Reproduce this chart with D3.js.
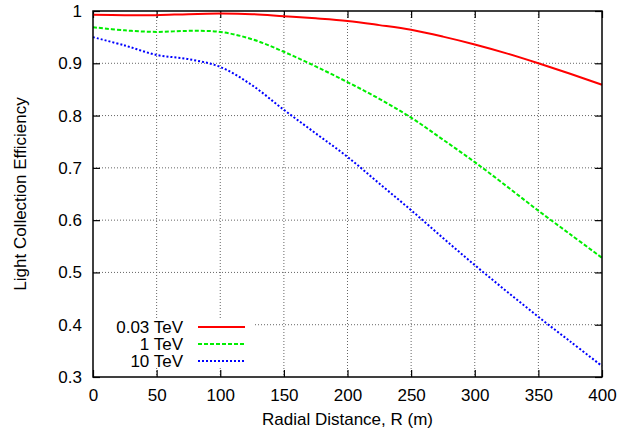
<!DOCTYPE html>
<html>
<head>
<meta charset="utf-8">
<script src="https://cdn.jsdelivr.net/npm/d3@7"></script>
<style>
  body { margin: 0; background: #fff; }
  text { font-family: "Liberation Sans", Arial, sans-serif; }
</style>
</head>
<body>
<svg width="641" height="435"></svg>
<script>
// radial distance samples (m)
let radius = [0, 25, 50, 75, 100, 125, 150, 175, 200, 225, 250, 275, 300, 325, 350, 375, 400];
// light collection efficiency per primary energy
let eff003 = [0.993, 0.992, 0.992, 0.994, 0.995, 0.994, 0.990, 0.986, 0.981, 0.973, 0.964, 0.951, 0.936, 0.919, 0.900, 0.880, 0.859];
let eff1 = [0.969, 0.963, 0.960, 0.962, 0.960, 0.946, 0.922, 0.894, 0.864, 0.832, 0.796, 0.754, 0.711, 0.665, 0.618, 0.573, 0.528];
let eff10 = [0.950, 0.934, 0.916, 0.908, 0.893, 0.858, 0.811, 0.766, 0.721, 0.670, 0.619, 0.566, 0.514, 0.464, 0.415, 0.368, 0.321];
let seriesNames = ['0.03 TeV', '1 TeV', '10 TeV'];
let xTicks = [0, 50, 100, 150, 200, 250, 300, 350, 400];
let yTicks = [0.3, 0.4, 0.5, 0.6, 0.7, 0.8, 0.9, 1];

let svg = d3.select('svg');
let marge = { top: 11, bottom: 58, left: 93, right: 39 };
let width = 641 - marge.left - marge.right;
let height = 435 - marge.top - marge.bottom;
let fontSize = '17px';
let g = svg.append('g')
  .attr('transform', 'translate(' + marge.left + ',' + marge.top + ')');

let x = d3.scaleLinear().domain([0, 400]).range([0, width]);
let y = d3.scaleLinear().domain([0.3, 1]).range([height, 0]);

// grid
g.append('g')
  .selectAll('line')
  .data(xTicks.slice(1, -1))
  .enter()
  .append('line')
  .attr('x1', function(d) { return x(d); })
  .attr('x2', function(d) { return x(d); })
  .attr('y1', 0)
  .attr('y2', height)
  .attr('stroke', '#666')
  .attr('stroke-width', 1)
  .attr('stroke-dasharray', '1,2');
g.append('g')
  .selectAll('line')
  .data(yTicks.slice(1, -1))
  .enter()
  .append('line')
  .attr('x1', 0)
  .attr('x2', width)
  .attr('y1', function(d) { return y(d); })
  .attr('y2', function(d) { return y(d); })
  .attr('stroke', '#666')
  .attr('stroke-width', 1)
  .attr('stroke-dasharray', '1,2');

// axes, ticks pointing inward on all sides
let tick = 7;
g.append('g')
  .attr('transform', 'translate(0,' + height + ')')
  .call(d3.axisBottom(x).tickValues(xTicks).tickSize(-tick).tickPadding(12).tickFormat(d3.format('d')));
g.append('g')
  .call(d3.axisTop(x).tickValues(xTicks).tickSize(-tick).tickFormat(''));
g.append('g')
  .call(d3.axisLeft(y).tickValues(yTicks).tickSize(-tick).tickPadding(11).tickFormat(function(d) { return d === 1 ? '1' : d3.format('.1f')(d); }));
g.append('g')
  .attr('transform', 'translate(' + width + ',0)')
  .call(d3.axisRight(y).tickValues(yTicks).tickSize(-tick).tickFormat(''));
g.selectAll('.domain').remove();
g.selectAll('.tick line').attr('stroke', '#000').attr('stroke-width', 1.2);
g.selectAll('.tick text')
  .style('font-size', fontSize)
  .style('font-family', '"Liberation Sans", Arial, sans-serif')
  .attr('fill', '#000');

// legend background hides the grid behind it
g.append('rect')
  .attr('x', 0)
  .attr('y', 308)
  .attr('width', 161)
  .attr('height', 49)
  .attr('fill', '#fff');

// curves
let series = [
  { name: seriesNames[0], values: eff003, color: '#ff0000', dash: null },
  { name: seriesNames[1], values: eff1, color: '#00ee00', dash: '4,2' },
  { name: seriesNames[2], values: eff10, color: '#0000ff', dash: '2,2' },
];
let line = d3.line()
  .x(function(d, i) { return x(radius[i]); })
  .y(function(d) { return y(d); })
  .curve(d3.curveCatmullRom);

g.append('g')
  .selectAll('path')
  .data(series)
  .enter()
  .append('path')
  .attr('d', function(d) { return line(d.values); })
  .attr('fill', 'none')
  .attr('stroke', function(d) { return d.color; })
  .attr('stroke-width', 2)
  .attr('stroke-dasharray', function(d) { return d.dash; });

// legend
let leg = g.append('g')
  .selectAll('g')
  .data(series)
  .enter()
  .append('g')
  .attr('transform', function(d, i) { return 'translate(0,' + (316 + i * 17) + ')'; });
leg.append('text')
  .attr('x', 90)
  .attr('y', 6)
  .attr('text-anchor', 'end')
  .style('font-size', fontSize)
  .text(function(d) { return d.name; });
leg.append('line')
  .attr('x1', 105)
  .attr('x2', 152)
  .attr('y1', 0)
  .attr('y2', 0)
  .attr('stroke', function(d) { return d.color; })
  .attr('stroke-width', 2)
  .attr('stroke-dasharray', function(d) { return d.dash; });

// frame
g.append('rect')
  .attr('width', width)
  .attr('height', height)
  .attr('fill', 'none')
  .attr('stroke', '#000')
  .attr('stroke-width', 1.5);

// axis titles
svg.append('text')
  .attr('x', marge.left + width / 2)
  .attr('y', 425)
  .attr('text-anchor', 'middle')
  .style('font-size', fontSize)
  .text('Radial Distance, R (m)');
svg.append('text')
  .attr('transform', 'translate(26,' + (marge.top + height / 2) + ') rotate(-90)')
  .attr('text-anchor', 'middle')
  .style('font-size', fontSize)
  .text('Light Collection Efficiency');
</script>
</body>
</html>
